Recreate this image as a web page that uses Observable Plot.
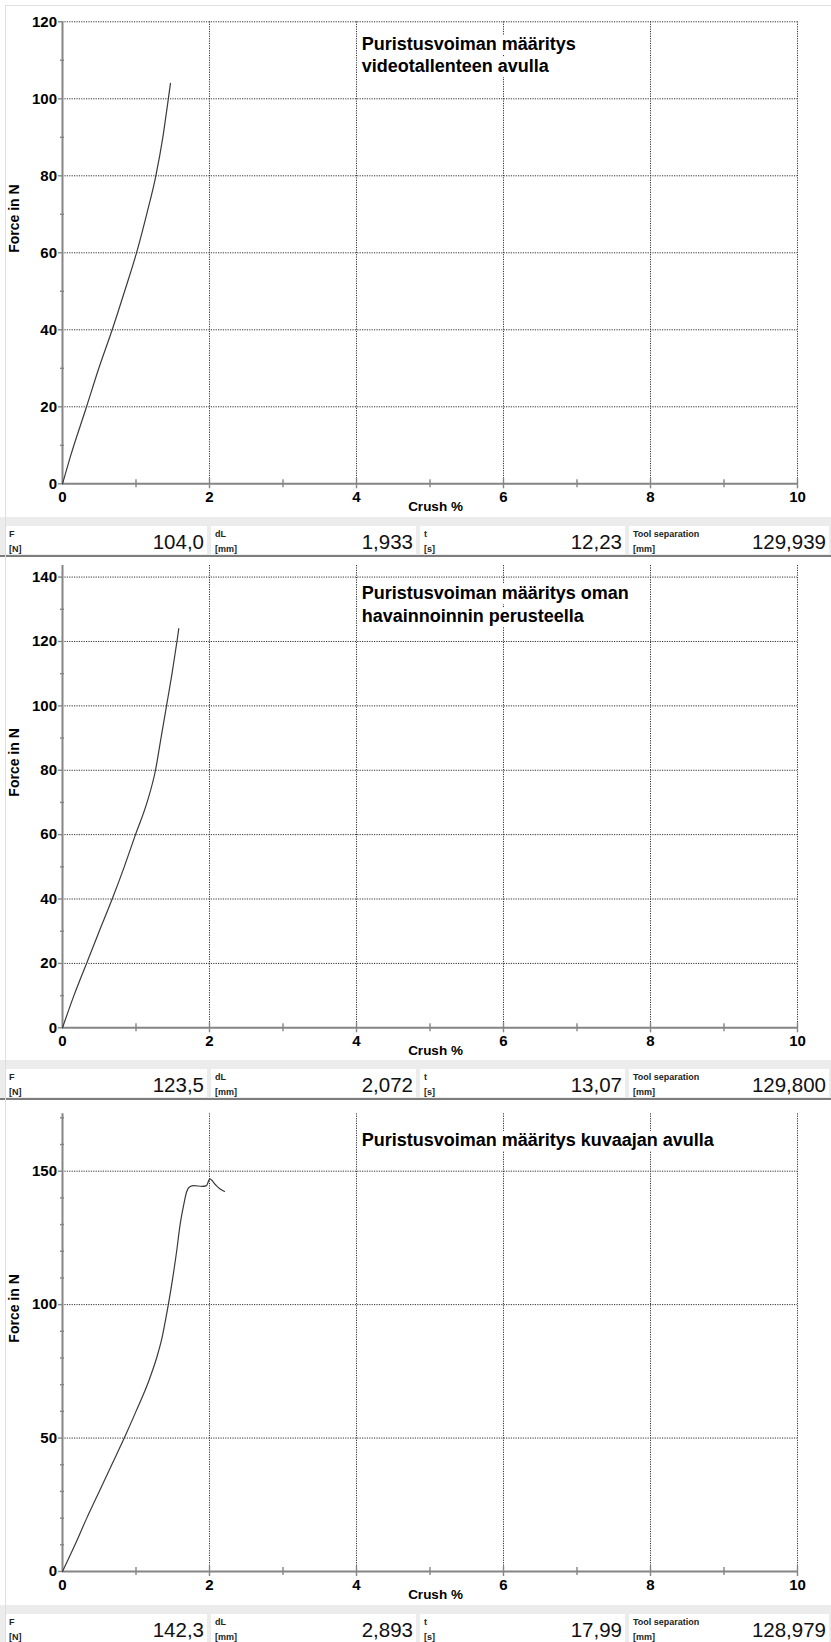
<!DOCTYPE html>
<html>
<head>
<meta charset="utf-8">
<script src="https://cdn.jsdelivr.net/npm/d3@7"></script>
<script src="https://cdn.jsdelivr.net/npm/@observablehq/plot@0.6"></script>
<style>
html,body{margin:0;padding:0;background:#fff;}
#page{position:relative;width:831px;overflow:hidden;font-family:'Liberation Sans',Arial,Helvetica,sans-serif;}
#page svg{display:block;}
.bar{position:relative;height:38px;background:#ececec;border-bottom:2px solid #7d7d7d;}
.box{position:absolute;top:9px;height:28px;background:#fff;}
.lt,.lb{position:absolute;left:4px;font-size:9px;font-weight:bold;color:#222;line-height:1;white-space:nowrap;}
.lt{top:4px;}
.lb{top:18.5px;}
.val{position:absolute;right:3px;top:5.5px;font-size:20.5px;color:#111;line-height:1;}
#edge{position:absolute;left:5px;top:5px;right:0;bottom:0;border-left:1px solid #dedede;border-top:1px solid #dedede;pointer-events:none;}
</style>
</head>
<body>
<div id="page"></div>
<script>
// ---- data ----
const crush1 = [0, 0.1, 0.327, 0.494, 0.676, 0.845, 1.007, 1.145, 1.27, 1.365, 1.44, 1.469];
const force1 = [0, 6.6, 20, 30, 40, 50, 60, 70, 80, 90, 100, 104];

const crush2 = [0, 0.155, 0.327, 0.5, 0.676, 0.84, 0.993, 1.15, 1.265, 1.34, 1.415, 1.49, 1.557, 1.582];
const force2 = [0, 10, 20, 30, 40, 50, 60, 70, 80, 90, 100, 110, 120, 124];

const crush3 = [0, 0.17, 0.33, 0.5, 0.67, 0.84, 1.0, 1.175, 1.28, 1.356, 1.40, 1.44, 1.50, 1.553, 1.60, 1.651, 1.687, 1.732, 1.787, 1.90, 1.959, 2.004, 2.082, 2.14, 2.204];
const force3 = [0, 10, 20, 30, 40, 50, 60, 71.5, 80, 87.8, 94, 100, 110, 120, 130, 137.7, 142.1, 144.2, 144.6, 144.3, 144.6, 147.1, 144.9, 143.4, 142.4];

const xMajor = [0, 2, 4, 6, 8, 10];
const xMinor = [1, 3, 5, 7, 9];
const xGrid = [2, 4, 6, 8, 10];

const yMajor1 = [0, 20, 40, 60, 80, 100, 120];
const yMinor1 = [10, 30, 50, 70, 90, 110];
const yMajor2 = [0, 20, 40, 60, 80, 100, 120, 140];
const yMinor2 = [10, 30, 50, 70, 90, 110, 130];
const yMajor3 = [0, 50, 100, 150];
const yMinor3 = [10, 20, 30, 40, 60, 70, 80, 90, 110, 120, 130, 140, 160, 170];

const titles = [
  "Puristusvoiman määritys\nvideotallenteen avulla",
  "Puristusvoiman määritys oman\nhavainnoinnin perusteella",
  "Puristusvoiman määritys kuvaajan avulla"
];
const xLabel = "Crush %";
const yLabel = "Force in N";

const barTop = ["F", "dL", "t", "Tool separation"];
const barBottom = ["[N]", "[mm]", "[s]", "[mm]"];
const barValues1 = ["104,0", "1,933", "12,23", "129,939"];
const barValues2 = ["123,5", "2,072", "13,07", "129,800"];
const barValues3 = ["142,3", "2,893", "17,99", "128,979"];

// ---- layout / style ----
const FONT = "'Liberation Sans', Arial, Helvetica, sans-serif";
const AX = "#858585";
const GRID = "#333";
const DASH = "1.2,1.2";
const titleX = 4.07;
const boxes = [[5, 207], [211, 416], [420, 625], [629, 829]];

function panel(cfg) {
  const data = cfg.crush.map((c, i) => ({crush: c, force: cfg.force[i]}));
  return Plot.plot({
    width: 831,
    height: cfg.height,
    marginLeft: 62,
    marginRight: 34,
    marginTop: cfg.marginTop,
    marginBottom: cfg.marginBottom,
    x: {domain: [0, 10]},
    y: {domain: [0, cfg.yMax]},
    style: {fontFamily: FONT, background: "white", color: "black", overflow: "visible"},
    marks: [
      Plot.gridY(cfg.yGrid, {stroke: GRID, strokeOpacity: 1, strokeDasharray: DASH}),
      Plot.gridX(xGrid, {stroke: GRID, strokeOpacity: 1, strokeDasharray: DASH}),
      Plot.text([cfg.title], {
        x: () => titleX, y: () => cfg.yMax, text: d => d,
        textAnchor: "start", lineAnchor: "top", dy: cfg.titleDy, lineHeight: 1.24,
        fontSize: 18, fontWeight: "bold", fill: "black",
        stroke: "white", strokeWidth: 10
      }),
      Plot.ruleY([0], {stroke: AX, strokeWidth: 2}),
      Plot.ruleX([0], {stroke: AX, strokeWidth: 2}),
      Plot.axisY(cfg.yMajor, {anchor: "left", tickSize: 4, tickFormat: () => "", stroke: AX, strokeWidth: 1.4, label: null}),
      Plot.axisY(cfg.yMinor, {anchor: "left", tickSize: 4, dx: 2, tickFormat: () => "", stroke: AX, strokeWidth: 1.4, label: null}),
      Plot.axisY(cfg.yMajor, {anchor: "left", tickSize: 0, tickPadding: 5.5, fontSize: 15, fontWeight: "bold", fill: "black", label: null}),
      Plot.axisX(xGrid, {anchor: "bottom", tickSize: 10, dy: -5, tickFormat: () => "", stroke: AX, strokeWidth: 1.4, label: null}),
      Plot.axisX(xMinor, {anchor: "bottom", tickSize: 8, dy: -4, tickFormat: () => "", stroke: AX, strokeWidth: 1.4, label: null}),
      Plot.axisX(xMajor, {anchor: "bottom", tickSize: 0, tickPadding: 8, fontSize: 15, fontWeight: "bold", fill: "black", label: null}),
      Plot.text([xLabel], {text: d => d, frameAnchor: "bottom", dx: 5.5, dy: 23.2, lineAnchor: "middle", fontSize: 13.5, fontWeight: "bold", fill: "black"}),
      Plot.text([yLabel], {text: d => d, frameAnchor: "left", dx: -47.5, rotate: -90, lineAnchor: "middle", fontSize: 14, fontWeight: "bold", fill: "black"}),
      Plot.line(data, {x: "crush", y: "force", stroke: "#3a3a3a", strokeWidth: 1.2, curve: "monotone-x"})
    ]
  });
}

function bar(values) {
  const div = d3.create("div").attr("class", "bar");
  boxes.forEach(([x0, x1], i) => {
    const b = div.append("div").attr("class", "box").style("left", x0 + "px").style("width", (x1 - x0) + "px");
    b.append("div").attr("class", "lt").text(barTop[i]);
    b.append("div").attr("class", "lb").text(barBottom[i]);
    b.append("div").attr("class", "val").text(values[i]);
  });
  return div.node();
}

const page = document.getElementById("page");
page.append(panel({crush: crush1, force: force1, height: 517, marginTop: 21.3, marginBottom: 33.7, yMax: 120,
  yMajor: yMajor1, yMinor: yMinor1, yGrid: yMajor1.slice(1), title: titles[0], titleDy: 12}));
page.append(bar(barValues1));
page.append(panel({crush: crush2, force: force2, height: 503, marginTop: 8, marginBottom: 32.7, yMax: 143.6,
  yMajor: yMajor2, yMinor: yMinor2, yGrid: yMajor2.slice(1), title: titles[1], titleDy: 18}));
page.append(bar(barValues2));
page.append(panel({crush: crush3, force: force3, height: 505, marginTop: 13.3, marginBottom: 34, yMax: 171.5,
  yMajor: yMajor3, yMinor: yMinor3, yGrid: yMajor3.slice(1), title: titles[2], titleDy: 16.7}));
page.append(bar(barValues3));
const edge = document.createElement("div");
edge.id = "edge";
page.append(edge);
</script>
</body>
</html>
